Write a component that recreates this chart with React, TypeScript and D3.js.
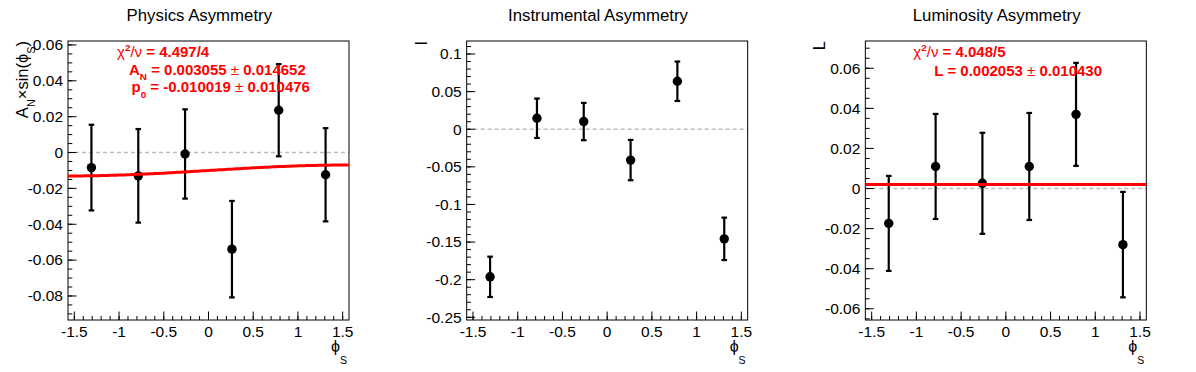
import React from "react";
import * as d3 from "d3";

// bin centres in phi_S (6 bins over [-pi/2, pi/2])
const phiBins = [-1.309, -0.785, -0.262, 0.262, 0.785, 1.309];

const physicsValues = [-0.0084, -0.013, -0.0008, -0.0539, 0.0236, -0.0124];
const physicsErrors = [0.0239, 0.0261, 0.0249, 0.0269, 0.0257, 0.026];

const instrumentalValues = [-0.1962, 0.0146, 0.0102, -0.041, 0.0638, -0.1457];
const instrumentalErrors = [0.0268, 0.0262, 0.0248, 0.0268, 0.0262, 0.0282];

const luminosityValues = [-0.0174, 0.011, 0.0026, 0.011, 0.037, -0.028];
const luminosityErrors = [0.0237, 0.0262, 0.0252, 0.0267, 0.0257, 0.0263];

const titles = ["Physics Asymmetry", "Instrumental Asymmetry", "Luminosity Asymmetry"];
const xTickValues = [-1.5, -1, -0.5, 0, 0.5, 1, 1.5];

// fit results
const physicsFit = { p0: -0.010019, an: 0.003055 };
const luminosityFit = { l: 0.002053 };

const W = 1196;
const H = 372;
const PAD = W / 3;
const FONT = "'Liberation Sans', Arial, Helvetica, 'DejaVu Sans', sans-serif";
const frame = { left: 68, right: 349, top: 41, bottom: 320 };

type Seg = { t: string; bold?: boolean; sub?: boolean; sup?: boolean };

const Rich = ({ segs, x = 0, y = 0, size, anchor = "start", transform, fill = "#000", subShift = 0.38 }: any) => {
  let shift = 0;
  return (
    <text x={x} y={y} fontSize={size} textAnchor={anchor} transform={transform} fill={fill}
      fontFamily={FONT} style={{ whiteSpace: "pre" }}>
      {segs.map((s: Seg, i: number) => {
        const target = s.sub ? size * subShift : s.sup ? -size * 0.4 : 0;
        const dy = target - shift;
        shift = target;
        return (
          <tspan key={i} dy={dy || undefined} fontSize={s.sub || s.sup ? size * 0.66 : size}
            fontWeight={s.bold ? "bold" : "normal"}>{s.t}</tspan>
        );
      })}
    </text>
  );
};

const fmt = (v: number) => String(parseFloat(v.toFixed(4)));

const ticksFor = (domain: number[], step: number) => {
  const a = Math.ceil(domain[0] / step - 1e-6);
  const b = Math.floor(domain[1] / step + 1e-6);
  return d3.range(a, b + 1).map((k) => k * step);
};

const panels = [
  {
    values: physicsValues, errors: physicsErrors, yDomain: [-0.0934, 0.0622], yMajor: 0.02, yMinor: 0.005,
    yTitle: [{ t: "A" }, { t: "N", sub: true }, { t: "×sin(" }, { t: "ϕ" }, { t: "S", sub: true }, { t: ")" }],
    fit: (phi: number) => physicsFit.p0 + physicsFit.an * Math.sin(phi),
    fitText: [
      { x: 117, y: 57, segs: [{ t: "χ" }, { t: "2", sup: true, bold: true }, { t: "/" }, { t: "ν" }, { t: " = 4.497/4", bold: true }] },
      { x: 129, y: 74.5, segs: [{ t: "A", bold: true }, { t: "N", sub: true, bold: true }, { t: " = 0.003055 ", bold: true }, { t: "±" }, { t: " 0.014652", bold: true }] },
      { x: 131.5, y: 92, segs: [{ t: "p", bold: true }, { t: "0", sub: true, bold: true }, { t: " = -0.010019 ", bold: true }, { t: "±" }, { t: " 0.010476", bold: true }] },
    ],
  },
  {
    values: instrumentalValues, errors: instrumentalErrors, yDomain: [-0.2536, 0.1173], yMajor: 0.05, yMinor: 0.01,
    yTitle: [{ t: "I" }],
    fit: null,
    fitText: [],
  },
  {
    values: luminosityValues, errors: luminosityErrors, yDomain: [-0.0656, 0.0736], yMajor: 0.02, yMinor: 0.005,
    yTitle: [{ t: "L" }],
    fit: (_phi: number) => luminosityFit.l,
    fitText: [
      { x: 116, y: 57, segs: [{ t: "χ" }, { t: "2", sup: true, bold: true }, { t: "/" }, { t: "ν" }, { t: " = 4.048/5", bold: true }] },
      { x: 137, y: 75.5, segs: [{ t: "L = 0.002053 ", bold: true }, { t: "±" }, { t: " 0.010430", bold: true }] },
    ],
  },
];

const Panel = ({ p, i }: any) => {
  const x = d3.scaleLinear().domain([-Math.PI / 2, Math.PI / 2]).range([frame.left, frame.right]);
  const y = d3.scaleLinear().domain(p.yDomain).range([frame.bottom, frame.top]);
  const yMaj = ticksFor(p.yDomain, p.yMajor);
  const yMin = ticksFor(p.yDomain, p.yMinor);
  const xMin = ticksFor([-Math.PI / 2, Math.PI / 2], 0.1);
  const fitPath = p.fit
    ? d3.line<number>().x((d) => x(d)).y((d) => y(p.fit(d)))(d3.range(0, 101).map((k) => -Math.PI / 2 + (k / 100) * Math.PI))
    : null;
  return (
    <g transform={`translate(${i * PAD},0)`}>
      <text x={PAD / 2} y={21} textAnchor="middle" fontSize={16.8} fontFamily={FONT}>{titles[i]}</text>
      {/* zero line */}
      <line x1={frame.left} x2={frame.right} y1={y(0)} y2={y(0)} stroke="#bdbdbd" strokeWidth={1.5} strokeDasharray="4,3" />
      {/* frame */}
      <rect x={frame.left} y={frame.top} width={frame.right - frame.left} height={frame.bottom - frame.top}
        fill="none" stroke="#000" strokeWidth={1} />
      {/* x ticks */}
      {xMin.map((v: number, k: number) => (
        <line key={"xm" + k} x1={x(v)} x2={x(v)} y1={frame.bottom} y2={frame.bottom - 4} stroke="#000" />
      ))}
      {xTickValues.map((v) => (
        <g key={"xM" + v}>
          <line x1={x(v)} x2={x(v)} y1={frame.bottom} y2={frame.bottom - 8.5} stroke="#000" />
          <text x={x(v)} y={337} textAnchor="middle" fontSize={15.5} fontFamily={FONT}>{fmt(v)}</text>
        </g>
      ))}
      {/* y ticks */}
      {yMin.map((v: number, k: number) => (
        <line key={"ym" + k} x1={frame.left} x2={frame.left + 4.3} y1={y(v)} y2={y(v)} stroke="#000" />
      ))}
      {yMaj.map((v: number) => (
        <g key={"yM" + v}>
          <line x1={frame.left} x2={frame.left + 8.5} y1={y(v)} y2={y(v)} stroke="#000" />
          <text x={frame.left - 5} y={y(v) + 5.3} textAnchor="end" fontSize={15.5} fontFamily={FONT}>{fmt(v)}</text>
        </g>
      ))}
      {/* axis titles */}
      <Rich segs={[{ t: "ϕ" }, { t: "S", sub: true }]} size={16} anchor="end" x={frame.right - 2} y={352} subShift={0.72} />
      <Rich segs={p.yTitle} size={16.5} anchor="end" transform={`translate(${frame.left - 40},${frame.top}) rotate(-90)`} subShift={0.4} />
      {/* data */}
      {phiBins.map((phi, k) => {
        const v = p.values[k];
        const e = p.errors[k];
        const cx = x(phi);
        return (
          <g key={"pt" + k} stroke="#000" strokeWidth={2.2}>
            <line x1={cx} x2={cx} y1={y(v - e)} y2={y(v + e)} />
            <line x1={cx - 2.8} x2={cx + 2.8} y1={y(v - e)} y2={y(v - e)} />
            <line x1={cx - 2.8} x2={cx + 2.8} y1={y(v + e)} y2={y(v + e)} />
            <circle cx={cx} cy={y(v)} r={4.7} fill="#000" stroke="none" />
          </g>
        );
      })}
      {fitPath && <path d={fitPath} fill="none" stroke="#ff0000" strokeWidth={3} />}
      {p.fitText.map((l: any, k: number) => (
        <Rich key={"ft" + k} segs={l.segs} x={l.x} y={l.y} size={15} fill="#ff0000" />
      ))}
    </g>
  );
};

export default function App() {
  return (
    <svg width={W} height={H} style={{ position: "absolute", left: 0, top: 0, background: "#fff" }}>
      <rect width={W} height={H} fill="#fff" />
      {panels.map((p, i) => (
        <Panel key={i} p={p} i={i} />
      ))}
    </svg>
  );
}
